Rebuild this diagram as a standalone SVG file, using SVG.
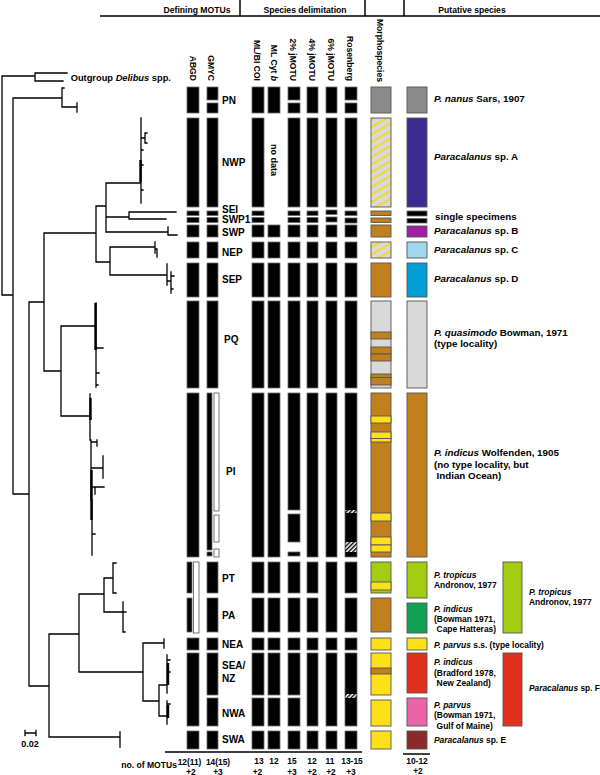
<svg xmlns="http://www.w3.org/2000/svg" width="600" height="775" viewBox="0 0 600 775">
<style>
text{font-family:"Liberation Sans",Arial,Helvetica,sans-serif;font-weight:bold;fill:#000}
.hd{font-size:8.6px}
.ch{font-size:8.6px;text-anchor:end}
.lb{font-size:10px}
.rt{font-size:9.8px}
.rs{font-size:9.7px}
.ct{font-size:8.4px;text-anchor:middle}
.tr{stroke:#000;stroke-width:1.3;fill:none;stroke-linecap:square}
.ln{stroke:#000;stroke-width:1.5;fill:none}
.b{fill:#000;stroke:#6a6a6a;stroke-width:0.8}
.w{fill:#fff;stroke:#555;stroke-width:0.8}
.bx{stroke:#555;stroke-width:0.9}
.gy{fill:#8a8a8a}.lg{fill:#d9d9d9}.br{fill:#c27f1e}.ye{fill:#fde01a}
.in{fill:#3b2a8f}.pu{fill:#a21ea5}.lb2{fill:#9fd8ef}.bl{fill:#00a0d6}
.li{fill:#a2cd12}.gr{fill:#12a055}.re{fill:#e2301f}.pk{fill:#e965a8}.ma{fill:#8a2b2a}
</style>
<defs>
<pattern id="hy" patternUnits="userSpaceOnUse" width="8" height="6.5" patternTransform="rotate(-30)">
<rect width="8" height="6.5" fill="#d9d9d9"/><line x1="0" y1="3.2" x2="8" y2="3.2" stroke="#f8d800" stroke-width="1.6"/>
</pattern>
<pattern id="hb" patternUnits="userSpaceOnUse" width="3" height="3" patternTransform="rotate(-45)">
<rect width="3" height="3" fill="#fff"/><rect width="3" height="1.4" fill="#000"/>
</pattern>
</defs>

<g id="header">
<line class="ln" x1="100" y1="16" x2="600" y2="16"/>
<line class="ln" x1="240" y1="0" x2="240" y2="16"/>
<line class="ln" x1="365" y1="0" x2="365" y2="16"/>
<line class="ln" x1="404" y1="0" x2="404" y2="16"/>
<text class="hd" x="197" y="13" text-anchor="middle">Defining MOTUs</text>
<text class="hd" x="305" y="13" text-anchor="middle">Species delimitation</text>
<text class="hd" x="472" y="13" text-anchor="middle">Putative species</text>
<text class="ch" transform="translate(189.5,81) rotate(90)">ABGD</text>
<text class="ch" transform="translate(208,81) rotate(90)">GMYC</text>
<text class="ch" transform="translate(254,81) rotate(90)">ML/BI COI</text>
<text class="ch" transform="translate(270.5,81) rotate(90)">ML Cyt <tspan font-style="italic">b</tspan></text>
<text class="ch" transform="translate(290,81) rotate(90)">2% jMOTU</text>
<text class="ch" transform="translate(309,81) rotate(90)">4% jMOTU</text>
<text class="ch" transform="translate(328,81) rotate(90)">6% jMOTU</text>
<text class="ch" transform="translate(347,81) rotate(90)">Rosenberg</text>
<text class="ch" transform="translate(377,82) rotate(90)">Morphospecies</text>
</g>

<g id="tree">
<path class="tr" d="M2,76V295M2,76H35M35,73V81M35,73H67M35,81H63
M2,295H13M13,98V494M13,98H62M62,88V107M62,88H64M62,107H77M77,103V112
M13,494H29M29,302V686M29,302H44M44,233V371M44,233H96M96,206V262M96,206H106M106,183V232M106,183H140
M141,118V203M141,138H145M145,133V143M145,133H147M145,143H147M141,150H143M141,165H143M141,190H143
M106,217H129M129,212V219M129,212H176M129,219H166
M106,232H168M168,227V235M168,235H177
M96,262H110M110,247V275M110,247H155M155,242V253M155,249H157M157,249V257
M110,275H167M167,264V285M167,281H171M171,272V293M171,276H174M171,289H173
M44,371H61M61,326V416M61,326H96M96,303V387M96,348H103M96,373H99M96,385H98
M61,416H90M90,394V440M91,440V500M92,500V555M91,442H97M97,440V446M92,468H103M103,456V478M92,487H104M95,487V494M92,534H95
M29,686H49M49,634V737M49,737H120M120,732V747
M49,634H79M79,594V672M79,594H104M104,578V612M104,578H113M113,563V593M113,563H116M113,593H116M104,612H123M123,602V632M123,612H126M123,632H125
M79,672H143M143,643V701M143,643H164M164,639V648M143,701H159M159,685V716M159,685H167M167,655V693M167,660H170M167,672H170M159,716H167M167,701V724M167,704H170"/>
<path d="M140.5,160V182M95.5,303V350M90.5,398V420M91.5,470V520M168,663V685M168,705V718" stroke="#000" stroke-width="2.4" fill="none"/>
<text x="70.7" y="80.7" font-size="9.3px">Outgroup <tspan font-style="italic">Delibus</tspan> spp.</text>
<path class="tr" d="M25,733H36M25,730.5V735.5M36,730.5V735.5"/>
<text x="30" y="746.5" font-size="9px" text-anchor="middle">0.02</text>
</g>

<g id="row-PN">
<rect class="b" x="187" y="87" width="12" height="26"/>
<rect class="b" x="207" y="87" width="11" height="13"/><rect class="b" x="207" y="103" width="11" height="10"/>
<rect class="b" x="252" y="87" width="12" height="26"/>
<rect class="b" x="268" y="87" width="12" height="26"/>
<rect class="b" x="288" y="87" width="12" height="13"/><rect class="b" x="288" y="103" width="12" height="10"/>
<rect class="b" x="307" y="87" width="11" height="26"/>
<rect class="b" x="326" y="87" width="11" height="26"/>
<rect class="b" x="345" y="87" width="12" height="13"/><rect class="b" x="345" y="103" width="12" height="10"/>
<rect class="bx gy" x="371" y="87" width="20" height="26"/>
<rect class="bx gy" x="407" y="87" width="20" height="26"/>
<text class="lb" x="222" y="104">PN</text>
<text class="rt" x="434" y="102"><tspan font-style="italic">P. nanus</tspan> Sars, 1907</text>
</g>

<g id="row-NWP">
<rect class="b" x="187" y="118" width="12" height="89"/>
<rect class="b" x="207" y="118" width="11" height="89"/>
<rect class="b" x="252" y="118" width="12" height="89"/>
<rect class="b" x="288" y="118" width="12" height="89"/>
<rect class="b" x="307" y="118" width="11" height="89"/>
<rect class="b" x="326" y="118" width="11" height="89"/>
<rect class="b" x="345" y="118" width="12" height="89"/>
<rect class="bx" fill="url(#hy)" x="371" y="118" width="20" height="89"/>
<rect class="bx in" x="407" y="118" width="20" height="89"/>
<text class="lb" x="222" y="166">NWP</text>
<text font-size="9px" text-anchor="middle" transform="translate(271,160) rotate(90)">no data</text>
<text class="rt" x="434" y="160"><tspan font-style="italic">Paracalanus</tspan> sp. A</text>
</g>

<g id="row-SEI">
<rect class="b" x="187" y="211" width="12" height="4.5"/>
<rect class="b" x="207" y="211" width="11" height="4.5"/>
<rect class="b" x="252" y="211" width="12" height="4.5"/>
<rect class="b" x="288" y="211" width="12" height="4.5"/>
<rect class="b" x="307" y="211" width="11" height="4.5"/>
<rect class="b" x="326" y="210" width="11" height="4.5"/>
<rect class="b" x="345" y="211" width="12" height="4.5"/>
<rect class="bx br" x="371" y="211" width="20" height="4.5"/>
<rect class="b" x="407" y="211" width="20" height="5"/>
<text class="lb" x="222" y="213.3" font-size="8.8px">SEI</text>
</g>

<g id="row-SWP1">
<rect class="b" x="187" y="217.5" width="12" height="5"/>
<rect class="b" x="207" y="217.5" width="11" height="5"/>
<rect class="b" x="252" y="217.5" width="12" height="5"/>
<rect class="b" x="288" y="217.5" width="12" height="5"/>
<rect class="b" x="307" y="217.5" width="11" height="5"/>
<rect class="b" x="326" y="217" width="11" height="5"/>
<rect class="b" x="345" y="218" width="12" height="5"/>
<rect class="bx br" x="371" y="218" width="20" height="4.5"/>
<rect class="b" x="407" y="218.5" width="20" height="4.5"/>
<text class="lb" x="222" y="223.3" font-size="8.8px">SWP1</text>
<text class="rt" x="435" y="219.5">single specimens</text>
</g>

<g id="row-SWP">
<rect class="b" x="187" y="225" width="12" height="12"/>
<rect class="b" x="207" y="225" width="11" height="12"/>
<rect class="b" x="252" y="225" width="12" height="12"/>
<rect class="b" x="268" y="225" width="12" height="12"/>
<rect class="b" x="288" y="225" width="12" height="12"/>
<rect class="b" x="307" y="225" width="11" height="12"/>
<rect class="b" x="326" y="225" width="11" height="12"/>
<rect class="b" x="345" y="225" width="12" height="12"/>
<rect class="bx br" x="371" y="225" width="20" height="12"/>
<rect class="bx pu" x="407" y="226" width="20" height="11"/>
<text class="lb" x="222" y="235.5">SWP</text>
<text class="rt" x="434" y="234"><tspan font-style="italic">Paracalanus</tspan> sp. B</text>
</g>

<g id="row-NEP">
<rect class="b" x="187" y="242" width="12" height="16"/>
<rect class="b" x="207" y="242" width="11" height="16"/>
<rect class="b" x="252" y="242" width="12" height="16"/>
<rect class="b" x="268" y="242" width="12" height="16"/>
<rect class="b" x="288" y="242" width="12" height="16"/>
<rect class="b" x="307" y="242" width="11" height="16"/>
<rect class="b" x="326" y="242" width="11" height="16"/>
<rect class="b" x="345" y="242" width="12" height="16"/>
<rect class="bx" fill="url(#hy)" x="371" y="242" width="20" height="16"/>
<rect class="bx lb2" x="407" y="242" width="20" height="16"/>
<text class="lb" x="222" y="255.5">NEP</text>
<text class="rt" x="434" y="253"><tspan font-style="italic">Paracalanus</tspan> sp. C</text>
</g>

<g id="row-SEP">
<rect class="b" x="187" y="263" width="12" height="34"/>
<rect class="b" x="207" y="263" width="11" height="34"/>
<rect class="b" x="252" y="263" width="12" height="34"/>
<rect class="b" x="268" y="263" width="12" height="34"/>
<rect class="b" x="288" y="263" width="12" height="34"/>
<rect class="b" x="307" y="263" width="11" height="34"/>
<rect class="b" x="326" y="263" width="11" height="34"/>
<rect class="b" x="345" y="263" width="12" height="34"/>
<rect class="bx br" x="371" y="263" width="20" height="34"/>
<rect class="bx bl" x="407" y="263" width="20" height="34"/>
<text class="lb" x="222" y="283">SEP</text>
<text class="rt" x="434" y="282"><tspan font-style="italic">Paracalanus</tspan> sp. D</text>
</g>

<g id="row-PQ">
<rect class="b" x="187" y="301" width="12" height="87"/>
<rect class="b" x="207" y="301" width="11" height="87"/>
<rect class="b" x="252" y="301" width="12" height="87"/>
<rect class="b" x="268" y="301" width="12" height="87"/>
<rect class="b" x="288" y="301" width="12" height="87"/>
<rect class="b" x="307" y="301" width="11" height="87"/>
<rect class="b" x="326" y="301" width="11" height="87"/>
<rect class="b" x="345" y="301" width="12" height="87"/>
<rect class="bx lg" x="371" y="301" width="20" height="87"/>
<g class="bx">
<rect class="br" x="371" y="332" width="20" height="7"/>
<rect class="br" x="371" y="347" width="20" height="7"/>
<rect class="br" x="371" y="354" width="20" height="7"/>
<rect class="br" x="371" y="374" width="20" height="3.5"/>
<rect class="br" x="371" y="377.5" width="20" height="7.5"/>
</g>
<rect class="bx lg" x="407" y="301" width="20" height="87"/>
<text class="lb" x="224" y="343">PQ</text>
<text class="rt" x="434" y="336"><tspan font-style="italic">P. quasimodo</tspan> Bowman, 1971</text>
<text class="rt" x="434" y="347">(type locality)</text>
</g>

<g id="row-PI">
<rect class="b" x="187" y="393" width="12" height="164"/>
<rect class="b" x="207" y="393" width="5" height="157"/>
<rect class="b" x="207" y="552" width="5" height="4"/>
<rect class="w" x="214" y="393" width="5" height="118"/>
<rect class="w" x="214" y="515" width="5" height="27"/>
<rect class="w" x="214" y="549" width="5" height="8"/>
<rect class="b" x="252" y="393" width="12" height="164"/>
<rect class="b" x="268" y="393" width="12" height="164"/>
<rect class="b" x="288" y="393" width="12" height="117"/>
<rect class="b" x="288" y="514" width="12" height="28"/>
<rect class="b" x="288" y="552" width="12" height="4"/>
<rect class="b" x="307" y="393" width="11" height="164"/>
<rect class="b" x="326" y="393" width="11" height="164"/>
<rect class="b" x="345" y="393" width="12" height="164"/>
<rect fill="url(#hb)" x="345.5" y="510" width="11" height="3"/>
<rect fill="url(#hb)" x="345.5" y="542" width="11" height="10"/>
<rect class="bx br" x="371" y="393" width="20" height="164"/>
<g class="bx ye">
<rect x="371" y="416" width="20" height="7"/>
<rect x="371" y="432" width="20" height="6.5"/>
<rect x="371" y="438.5" width="20" height="3.5"/>
<rect x="371" y="513" width="20" height="8"/>
<rect x="371" y="537" width="20" height="8"/>
<rect x="371" y="545" width="20" height="7"/>
</g>
<rect class="bx br" x="407" y="393" width="20" height="164"/>
<text class="lb" x="226" y="475">PI</text>
<text class="rt" x="434" y="456"><tspan font-style="italic">P. indicus</tspan> Wolfenden, 1905</text>
<text class="rt" x="434" y="468">(no type locality, but</text>
<text class="rt" x="436.5" y="479">Indian Ocean)</text>
</g>

<g id="row-PT">
<rect class="b" x="187" y="562" width="5" height="31"/>
<rect class="w" x="193.5" y="562" width="5.5" height="71"/>
<rect class="b" x="207" y="562" width="11" height="31"/>
<rect class="b" x="252" y="562" width="12" height="31"/>
<rect class="b" x="268" y="562" width="12" height="31"/>
<rect class="b" x="288" y="562" width="12" height="31"/>
<rect class="b" x="307" y="562" width="11" height="31"/>
<rect class="b" x="326" y="562" width="11" height="70"/>
<rect class="b" x="345" y="562" width="12" height="31"/>
<rect class="bx li" x="371" y="562" width="20" height="31"/>
<rect class="bx ye" x="371" y="582" width="20" height="8"/>
<rect class="bx li" x="407" y="562" width="20" height="36"/>
<rect class="bx li" x="503" y="562" width="19" height="71"/>
<text class="lb" x="222" y="582">PT</text>
<g transform="translate(434 0) scale(0.87 1)">
<text class="rs" x="0" y="578" font-style="italic">P. tropicus</text>
<text class="rs" x="0" y="588">Andronov, 1977</text>
</g>
<g transform="translate(529 0) scale(0.87 1)">
<text class="rs" x="0" y="595" font-style="italic">P. tropicus</text>
<text class="rs" x="0" y="605">Andronov, 1977</text>
</g>
</g>

<g id="row-PA">
<rect class="b" x="187" y="598" width="5" height="34"/>
<rect class="b" x="207" y="598" width="11" height="34"/>
<rect class="b" x="252" y="598" width="12" height="34"/>
<rect class="b" x="268" y="598" width="12" height="34"/>
<rect class="b" x="288" y="598" width="12" height="34"/>
<rect class="b" x="307" y="598" width="11" height="34"/>
<rect class="b" x="345" y="598" width="12" height="34"/>
<rect class="bx br" x="371" y="598" width="20" height="34"/>
<rect class="bx gr" x="407" y="603" width="20" height="30"/>
<text class="lb" x="222" y="619">PA</text>
<g transform="translate(434 0) scale(0.87 1)">
<text class="rs" x="0" y="612" font-style="italic">P. indicus</text>
<text class="rs" x="0" y="622">(Bowman 1971,</text>
<text class="rs" x="3" y="632">Cape Hatteras)</text>
</g>
</g>

<g id="row-NEA">
<rect class="b" x="187" y="638" width="12" height="12"/>
<rect class="b" x="207" y="638" width="11" height="12"/>
<rect class="b" x="252" y="638" width="12" height="12"/>
<rect class="b" x="268" y="638" width="12" height="12"/>
<rect class="b" x="288" y="638" width="12" height="12"/>
<rect class="b" x="307" y="638" width="11" height="12"/>
<rect class="b" x="326" y="638" width="11" height="12"/>
<rect class="b" x="345" y="638" width="12" height="12"/>
<rect class="bx ye" x="371" y="638" width="20" height="12"/>
<rect class="bx ye" x="407" y="638" width="20" height="12"/>
<text class="lb" x="222" y="648">NEA</text>
<g transform="translate(434 0) scale(0.87 1)">
<text class="rs" x="0" y="648"><tspan font-style="italic">P. parvus</tspan> s.s. (type locality)</text>
</g>
</g>

<g id="row-SEA-NZ">
<rect class="b" x="187" y="653" width="12" height="73"/>
<rect class="b" x="207" y="653" width="11" height="42"/>
<rect class="b" x="252" y="653" width="12" height="42"/>
<rect class="b" x="268" y="653" width="12" height="42"/>
<rect class="b" x="288" y="653" width="12" height="42"/>
<rect class="b" x="307" y="653" width="11" height="73"/>
<rect class="b" x="326" y="653" width="11" height="73"/>
<rect class="b" x="345" y="653" width="12" height="73"/>
<rect fill="url(#hb)" x="345.5" y="694" width="11" height="4"/>
<rect class="bx ye" x="371" y="653" width="20" height="42"/>
<rect class="bx br" x="371" y="668" width="20" height="6"/>
<rect class="bx re" x="407" y="653" width="20" height="40"/>
<rect class="bx re" x="503" y="653" width="19" height="73"/>
<text class="lb" x="222" y="669">SEA/</text>
<text class="lb" x="222" y="682">NZ</text>
<g transform="translate(434 0) scale(0.87 1)">
<text class="rs" x="0" y="665" font-style="italic">P. indicus</text>
<text class="rs" x="0" y="676">(Bradford 1978,</text>
<text class="rs" x="3" y="686">New Zealand)</text>
</g>
<g transform="translate(529 0) scale(0.86 1)">
<text class="rs" x="0" y="691"><tspan font-style="italic">Paracalanus</tspan> sp. F</text>
</g>
</g>

<g id="row-NWA">
<rect class="b" x="207" y="698" width="11" height="28"/>
<rect class="b" x="252" y="698" width="12" height="28"/>
<rect class="b" x="268" y="698" width="12" height="28"/>
<rect class="b" x="288" y="698" width="12" height="28"/>
<rect class="bx ye" x="371" y="700" width="20" height="26"/>
<rect class="bx pk" x="407" y="698" width="20" height="28"/>
<text class="lb" x="222" y="717">NWA</text>
<g transform="translate(434 0) scale(0.87 1)">
<text class="rs" x="0" y="708" font-style="italic">P. parvus</text>
<text class="rs" x="0" y="718">(Bowman 1971,</text>
<text class="rs" x="3" y="729">Gulf of Maine)</text>
</g>
</g>

<g id="row-SWA">
<rect class="b" x="187" y="731" width="12" height="18"/>
<rect class="b" x="207" y="731" width="11" height="18"/>
<rect class="b" x="252" y="731" width="12" height="18"/>
<rect class="b" x="268" y="731" width="12" height="18"/>
<rect class="b" x="288" y="731" width="12" height="18"/>
<rect class="b" x="307" y="731" width="11" height="18"/>
<rect class="b" x="326" y="731" width="11" height="18"/>
<rect class="b" x="345" y="731" width="12" height="18"/>
<rect class="bx ye" x="371" y="731" width="20" height="18"/>
<rect class="bx ma" x="407" y="731" width="20" height="18"/>
<text class="lb" x="222" y="743">SWA</text>
<g transform="translate(434 0) scale(0.87 1)">
<text class="rs" x="0" y="743"><tspan font-style="italic">Paracalanus</tspan> sp. E</text>
</g>
</g>

<g id="counts">
<line class="ln" x1="165" y1="752" x2="362" y2="752"/>
<line class="ln" x1="403" y1="754" x2="430" y2="754"/>
<text x="177" y="768" font-size="8.6px" text-anchor="end">no. of  MOTUs</text>
<text class="ct" x="189.5" y="765">12(11)</text><text class="ct" x="191" y="774.5">+2</text>
<text class="ct" x="218" y="765">14(15)</text><text class="ct" x="218" y="774.5">+3</text>
<text class="ct" x="259" y="764">13</text><text class="ct" x="257.5" y="774.5">+2</text>
<text class="ct" x="274" y="764">12</text>
<text class="ct" x="292" y="764">15</text><text class="ct" x="292" y="774.5">+3</text>
<text class="ct" x="312" y="764">12</text><text class="ct" x="312" y="774.5">+2</text>
<text class="ct" x="330" y="764">11</text><text class="ct" x="331" y="774.5">+2</text>
<text class="ct" x="352" y="764">13-15</text><text class="ct" x="351" y="774.5">+3</text>
<text class="ct" x="417" y="764" font-size="9px">10-12</text><text class="ct" x="418" y="774" font-size="9px">+2</text>
</g>
</svg>
